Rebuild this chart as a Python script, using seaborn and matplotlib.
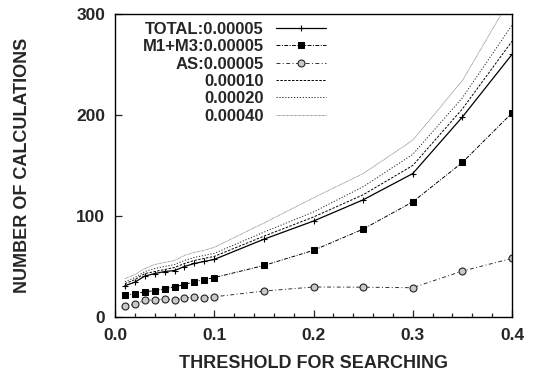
import numpy as np
import pandas as pd
import matplotlib
matplotlib.use("Agg")
import matplotlib.pyplot as plt
import seaborn as sns
from matplotlib.ticker import MultipleLocator

# ---- data ----
threshold = [0.01, 0.02, 0.03, 0.04, 0.05, 0.06, 0.07, 0.08, 0.09, 0.10,
             0.15, 0.20, 0.25, 0.30, 0.35, 0.40]
total_5 = [31, 34.5, 40.5, 43, 45, 46, 50, 53, 55, 57, 77, 95, 116, 142, 198, 260]
m1m3_5 = [21.5, 23, 25, 26, 28, 30, 32, 35, 37, 39, 51, 66, 87, 114, 153, 202]
as_5 = [11, 12.5, 16.5, 17, 18, 16.5, 19, 19.5, 19, 20, 25.7, 29.7, 29.5, 29, 45.5, 58]
tot_10 = [33, 37, 43, 45, 47, 49, 53, 56, 58, 60, 80, 99, 121, 150, 206, 273]
tot_20 = [35, 39, 45, 48, 50, 52, 56, 59, 61, 63, 84, 104, 129, 161, 217, 289]
tot_40 = [38, 42, 48, 52, 54, 56, 61, 64, 66, 69, 93, 118, 142, 175, 234, 318]

labels = ["TOTAL:0.00005", "M1+M3:0.00005", "AS:0.00005", "0.00010", "0.00020", "0.00040"]
series = [total_5, m1m3_5, as_5, tot_10, tot_20, tot_40]

x_ticks = [0.0, 0.1, 0.2, 0.3, 0.4]
x_tick_labels = ["0.0", "0.1", "0.2", "0.3", "0.4"]
y_ticks = [0, 100, 200, 300]

# ---- style ----
sns.set_style("ticks")
plt.rcParams["font.family"] = ["Liberation Sans", "DejaVu Sans"]
plt.rcParams["font.weight"] = "bold"

W, H = 541, 375
fig = plt.figure(figsize=(W / 100, H / 100), dpi=100)
ax = fig.add_axes([115 / W, 1 - 317 / H, (512 - 115) / W, (317 - 14) / H])

styles = [
    dict(color="black", linestyle="-", marker="+", markersize=5, mew=0.8, lw=0.9,
         markeredgecolor="black"),
    dict(color="black", linestyle=(0, (4, 1.5, 1, 1.5)), marker="s", markersize=4.8,
         lw=0.7, markerfacecolor="black", markeredgecolor="black"),
    dict(color="#333333", linestyle=(0, (4, 2.5, 1, 2.5)), marker="o", markersize=5,
         lw=0.7, markerfacecolor="#c8c8c8", markeredgecolor="#222222", mew=0.8),
    dict(color="black", linestyle=(0, (2.5, 1.5)), lw=0.7),
    dict(color="#222222", linestyle=(0, (1.2, 1.8)), lw=0.7),
    dict(color="#666666", linestyle=(0, (0.8, 0.8)), lw=0.6),
]

for lab, vals, st in zip(labels, series, styles):
    df = pd.DataFrame({"x": threshold, "y": vals})
    sns.lineplot(data=df, x="x", y="y", ax=ax, label=lab, **st)

ax.set_xlim(0, 0.4)
ax.set_ylim(0, 300)
ax.set_xticks(x_ticks)
ax.set_xticklabels(x_tick_labels)
ax.set_yticks(y_ticks)
ax.xaxis.set_minor_locator(MultipleLocator(0.02))
ax.tick_params(axis="both", which="both", direction="in", labelsize=12.5,
               width=0.9, top=False, right=False)
ax.tick_params(axis="x", which="major", length=5, pad=8)
ax.tick_params(axis="y", which="major", length=5, pad=7)
ax.tick_params(axis="x", which="minor", length=3)
for lbl in ax.get_xticklabels() + ax.get_yticklabels():
    lbl.set_fontweight("bold")
for s in ax.spines.values():
    s.set_linewidth(1.0)
    s.set_color("black")

ax.set_xlabel("THRESHOLD FOR SEARCHING", fontsize=13, fontweight="bold")
ax.set_ylabel("NUMBER OF CALCULATIONS", fontsize=13, fontweight="bold")
ax.xaxis.set_label_coords(0.5, -(355 - 317) / 303)
ax.yaxis.set_label_coords((31 - 115) / 397, 0.5)

leg = ax.legend(loc="upper right", bbox_to_anchor=(326 / W, 1 - 22 / H),
                bbox_transform=fig.transFigure, frameon=False,
                markerfirst=False, handlelength=3.0, fontsize=12,
                labelspacing=0.14, borderaxespad=0.0, borderpad=0.0,
                handletextpad=0.75)
for t in leg.get_texts():
    t.set_fontweight("bold")

fig.savefig("out.png", dpi=100)
